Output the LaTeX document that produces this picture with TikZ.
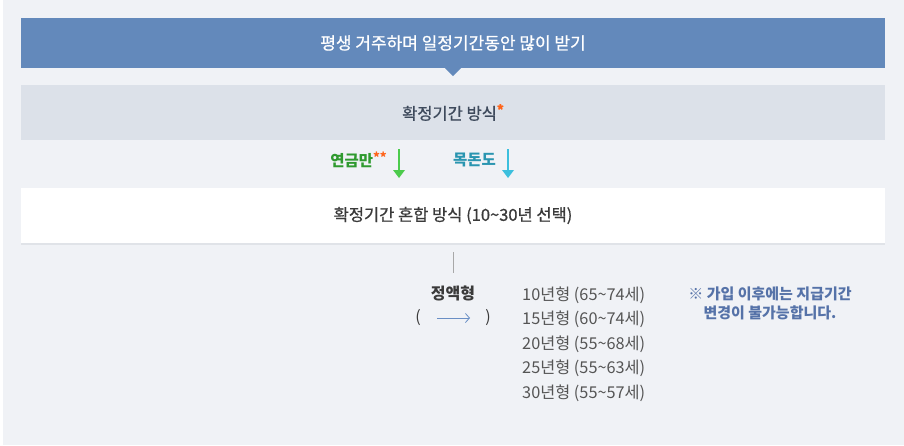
\documentclass[tikz,border=0pt]{standalone}
\usepackage{fontspec}
\setmainfont{Noto Sans CJK KR}
\newfontfamily\medfont[FakeBold=0.8]{Noto Sans CJK KR}
\usetikzlibrary{arrows.meta}
\definecolor{bgc}{HTML}{F0F2F6}
\definecolor{bandblue}{HTML}{6389BB}
\definecolor{bandgray}{HTML}{DCE1E9}
\definecolor{graytxt}{HTML}{3E4A5C}
\definecolor{greentxt}{HTML}{2F9A2F}
\definecolor{greenarr}{HTML}{4CCB4C}
\definecolor{cyantxt}{HTML}{2A95B0}
\definecolor{cyanarr}{HTML}{3CBFDD}
\definecolor{stararc}{HTML}{FF6319}
\definecolor{darktxt}{HTML}{3A3A3A}
\definecolor{listtxt}{HTML}{555555}
\definecolor{notetxt}{HTML}{5572A8}
\definecolor{linec}{HTML}{A8A8A8}
\definecolor{smallarr}{HTML}{6A8FC5}
\definecolor{shadowc}{HTML}{E0E3E8}
\tikzset{
  band/.style={minimum width=864pt, inner sep=0pt},
  lbl/.style={anchor=east, inner sep=0pt, font=\fontsize{15.5}{17}\selectfont\bfseries},
  listitem/.style={anchor=west, inner sep=0pt, text=listtxt, font=\fontsize{16.3}{18}\selectfont},
  downarr/.style={line width=1.4pt},
}
\begin{document}
\begin{tikzpicture}[x=1pt,y=-1pt]
\useasboundingbox (0,0) rectangle (904,445);
\fill[white] (0,0) rectangle (904,445);
\fill[bgc] (3,0) rectangle (904,445);

% top blue band
\node[band, fill=bandblue, minimum height=50pt, text=white, font=\medfont\fontsize{17}{19}\selectfont] (top) at (453,43) {평생 거주하며 일정기간동안 많이 받기};
\fill[bandblue] ([xshift=-8pt]top.south) -- ([xshift=8pt]top.south) -- ([yshift=-8pt]top.south) -- cycle;

% gray band
\node[band, fill=bandgray, minimum height=55pt, text=graytxt, font=\medfont\fontsize{16.5}{18}\selectfont] (fixed) at (453,112.5) {확정기간 방식\textcolor{stararc}{\raisebox{0.3em}{\fontsize{13}{14}\selectfont\bfseries *}}};

% white band with shadow
\fill[shadowc] (21,190) rectangle (885,244.5);
\node[band, fill=white, minimum height=55pt, text=darktxt, font=\medfont\fontsize{16.5}{18}\selectfont] (mixed) at (453,215.5) {확정기간 혼합 방식 (10\textasciitilde 30년 선택)};

% arrows with labels
\coordinate (g1) at (399,149);
\coordinate (g2) at (399,178);
\coordinate (c1) at (508,149);
\coordinate (c2) at (508,178);
\draw[downarr, greenarr] (g1) -- ([yshift=6pt]g2);
\fill[greenarr] ([xshift=-6pt,yshift=8pt]g2) -- ([xshift=6pt,yshift=8pt]g2) -- (g2) -- cycle;
\draw[downarr, cyanarr] (c1) -- ([yshift=6pt]c2);
\fill[cyanarr] ([xshift=-6pt,yshift=8pt]c2) -- ([xshift=6pt,yshift=8pt]c2) -- (c2) -- cycle;
\node[lbl, text=greentxt] (annuity) at (387,160) {연금만\textcolor{stararc}{\raisebox{0.25em}{\fontsize{13}{14}\selectfont **}}};
\node[lbl, text=cyantxt] (lump) at (496,160) {목돈도};

% fixed-amount part
\coordinate (v1) at (453.5,252);
\node[inner sep=0pt, text=darktxt, font=\fontsize{16}{18}\selectfont\bfseries] (flat) at (453,293) {정액형};
\draw[linec, line width=0.8pt] (v1) -- ([yshift=-21pt]v1);
\node[inner sep=0pt, text=darktxt, font=\fontsize{16}{18}\selectfont] (lp) at (418,318) {(};
\node[inner sep=0pt, text=darktxt, font=\fontsize{16}{18}\selectfont] (rp) at (488,318) {)};
\coordinate (a1) at (437,318);
\coordinate (a2) at (470,318);
\draw[smallarr, line width=0.8pt, -{Straight Barb[length=4pt,width=9pt]}] (a1) -- (a2);

% list
\node[listitem] (t10) at (522,295) {10년형 (65\textasciitilde 74세)};
\node[listitem] (t15) at (522,319.5) {15년형 (60\textasciitilde 74세)};
\node[listitem] (t20) at (522,344) {20년형 (55\textasciitilde 68세)};
\node[listitem] (t25) at (522,368.5) {25년형 (55\textasciitilde 63세)};
\node[listitem] (t30) at (522,393) {30년형 (55\textasciitilde 57세)};

% note
\node[inner sep=0pt, align=center, text=notetxt, font=\fontsize{15}{19}\selectfont\bfseries] (note) at (770,303) {※ 가입 이후에는 지급기간\\변경이 불가능합니다.};
\end{tikzpicture}
\end{document}
